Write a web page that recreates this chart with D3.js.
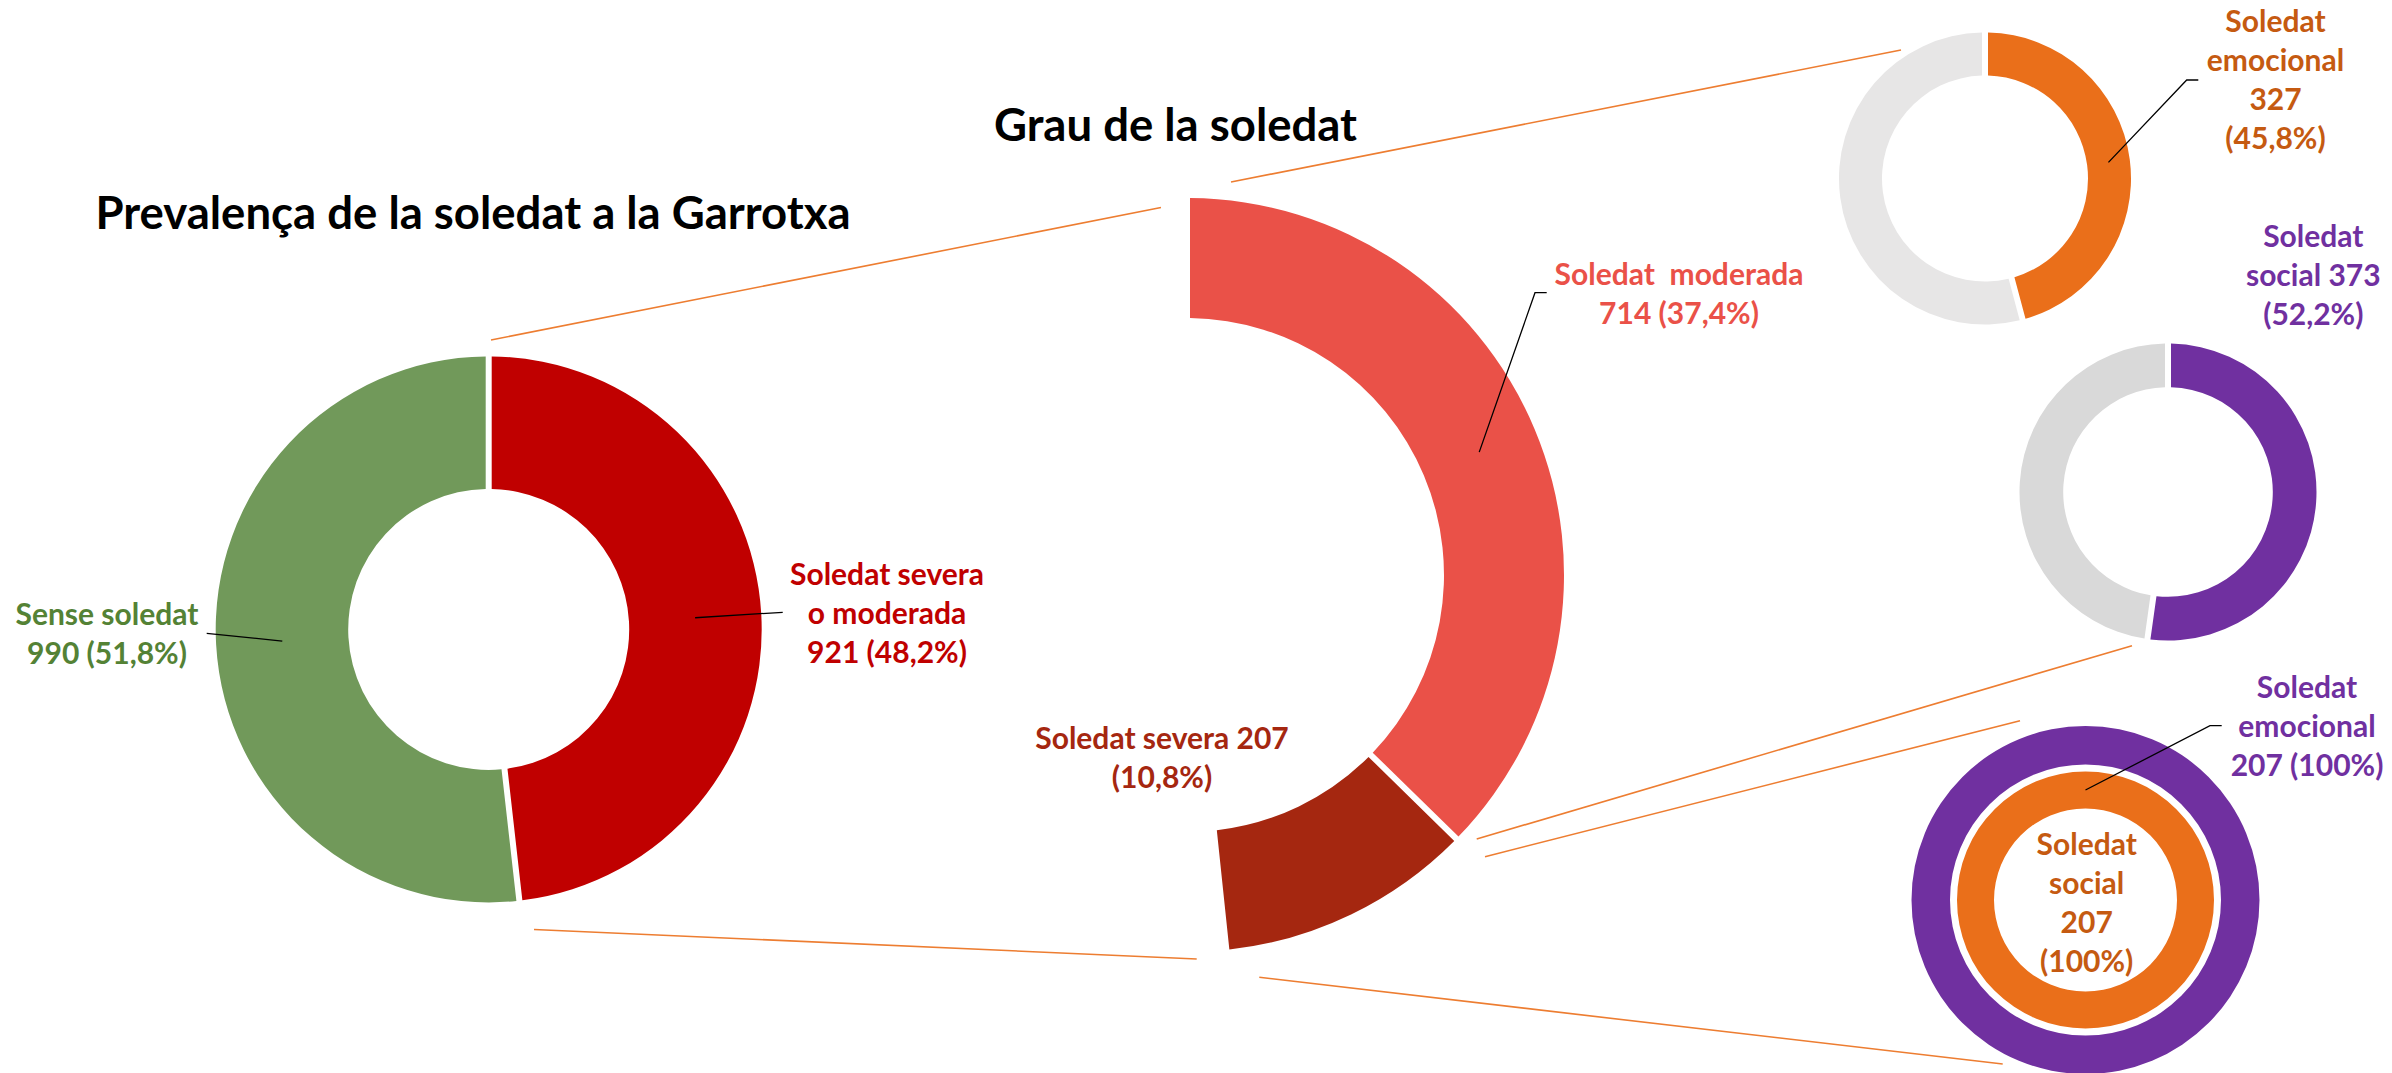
<!DOCTYPE html>
<html>
<head>
<meta charset="utf-8">
<script src="https://cdn.jsdelivr.net/npm/d3@7"></script>
<style>
  body { margin: 0; background: #fff; }
  text { font-family: "Lato", "Open Sans", sans-serif; font-weight: bold; white-space: pre; }
</style>
</head>
<body>
<div id="chart"></div>
<script>
// Prevalença
const prevalenceCategories = ["Soledat severa o moderada", "Sense soledat"];
const prevalenceValues = [921, 990];

// Grau de la soledat (the last one is the hidden part)
const grauCategories = ["Soledat moderada", "Soledat severa", "Sense soledat"];
const grauValues = [714, 207, 990];

// Tipus dins de la soledat moderada (total 714)
const moderadaTypes = ["Soledat emocional", "Soledat social"];
const moderadaTypeValues = [327, 373];

// Tipus dins de la soledat severa (total 207)
const severaTypes = ["Soledat emocional", "Soledat social"];
const severaTypeValues = [207, 207];

const W = 2392, H = 1073;
const GAP = 6;
const LABEL_SIZE = 30, TITLE_SIZE = 45.5, LINE = 39;

const pct = p => p >= 0.9995 ? "100%" : d3.format(".1f")(p * 100).replace(".", ",") + "%";

const svg = d3.select("#chart")
    .append("svg")
    .attr("width", W)
    .attr("height", H);

svg.append("rect").attr("width", W).attr("height", H).attr("fill", "#fff");

// orange connector lines between the charts
const connectors = [
    [[491, 340], [1161, 207.5]],
    [[534, 929.5], [1196.7, 959]],
    [[1231, 182], [1901, 50]],
    [[1259.3, 977.3], [2002.7, 1064]],
    [[1476.7, 839], [2132, 645.7]],
    [[1485, 856.7], [2020, 720.7]]
];
svg.selectAll(".conn")
    .data(connectors)
    .enter()
    .append("line")
    .attr("x1", d => d[0][0]).attr("y1", d => d[0][1])
    .attr("x2", d => d[1][0]).attr("y2", d => d[1][1])
    .attr("stroke", "#ED7D31")
    .attr("stroke-width", 1.6);

function donut(values, cx, cy, rOut, rIn, colors) {
    const pie = d3.pie().sort(null).padAngle(GAP / rOut);
    const arc = d3.arc().innerRadius(rIn).outerRadius(rOut).padRadius(rOut);
    const arcs = pie(values);
    const g = svg.append("g").attr("transform", `translate(${cx},${cy})`);
    g.selectAll("path")
        .data(arcs)
        .enter()
        .append("path")
        .attr("d", arc)
        .attr("fill", (d, i) => colors[i]);
    return { arcs, arc, cx, cy };
}

function label(lines, x, y, color) {
    const t = svg.append("text")
        .attr("text-anchor", "middle")
        .attr("fill", color)
        .style("font-size", LABEL_SIZE + "px");
    lines.forEach((s, i) => {
        t.append("tspan").attr("x", x).attr("y", y + i * LINE).text(s);
    });
}

function leader(points) {
    svg.append("path")
        .attr("d", d3.line()(points))
        .attr("fill", "none")
        .attr("stroke", "#000")
        .attr("stroke-width", 1.3);
}

function centroidOf(d, info) {
    const c = info.arc.centroid(d);
    return [info.cx + c[0], info.cy + c[1]];
}

// --- Prevalença de la soledat a la Garrotxa
const prevTotal = d3.sum(prevalenceValues);
const prev = donut(prevalenceValues, 488.7, 629.4, 273, 140.5, ["#C00000", "#71995A"]);

svg.append("text")
    .attr("x", 473).attr("y", 229)
    .attr("text-anchor", "middle")
    .style("font-size", TITLE_SIZE + "px")
    .attr("fill", "#000")
    .text("Prevalença de la soledat a la Garrotxa");

label(["Soledat severa", "o moderada", `${prevalenceValues[0]} (${pct(prevalenceValues[0] / prevTotal)})`],
    887, 585, "#C00000");
leader([[782.7, 612.3], centroidOf(prev.arcs[0], prev)]);

label(["Sense soledat", `${prevalenceValues[1]} (${pct(prevalenceValues[1] / prevTotal)})`],
    107, 624.5, "#548235");
leader([[206.7, 633.3], centroidOf(prev.arcs[1], prev)]);

// --- Grau de la soledat
const grauTotal = d3.sum(grauValues);
const grau = donut(grauValues, 1187, 575, 377, 257, ["#EA5148", "#A52710", "none"]);

svg.append("text")
    .attr("x", 1175.5).attr("y", 141)
    .attr("text-anchor", "middle")
    .style("font-size", TITLE_SIZE + "px")
    .attr("fill", "#000")
    .text("Grau de la soledat");

label(["Soledat  moderada", `${grauValues[0]} (${pct(grauValues[0] / grauTotal)})`],
    1679, 285, "#EA5148");
leader([[1546.7, 292.7], [1535, 292.7], centroidOf(grau.arcs[0], grau)]);

label([`Soledat severa ${grauValues[1]}`, `(${pct(grauValues[1] / grauTotal)})`],
    1162, 749, "#A52710");

// --- Tipus dins la soledat moderada
const emo = donut([moderadaTypeValues[0], grauValues[0] - moderadaTypeValues[0]],
    1985, 178.5, 146, 103, ["#EA6F1A", "#E7E6E6"]);
label(["Soledat", "emocional", `${moderadaTypeValues[0]}`, `(${pct(moderadaTypeValues[0] / grauValues[0])})`],
    2275.5, 31.7, "#C55A11");
leader([[2198.3, 80], [2186.7, 80], centroidOf(emo.arcs[0], emo)]);

donut([moderadaTypeValues[1], grauValues[0] - moderadaTypeValues[1]],
    2168, 492, 148.5, 104.8, ["#7030A0", "#D9D9D9"]);
label(["Soledat", `social ${moderadaTypeValues[1]}`, `(${pct(moderadaTypeValues[1] / grauValues[0])})`],
    2313.3, 246.7, "#7030A0");

// --- Tipus dins la soledat severa (two rings)
donut([severaTypeValues[0]], 2085.5, 900, 174, 135.5, ["#7030A0"]);
donut([severaTypeValues[1]], 2085.5, 900, 128.5, 91.5, ["#EA6F1A"]);

label(["Soledat", "emocional", `${severaTypeValues[0]} (${pct(severaTypeValues[0] / grauValues[1])})`],
    2307, 698, "#7030A0");
leader([[2221.7, 725.7], [2210, 725.7], [2085.5, 900 - 110]]);

label(["Soledat", "social", `${severaTypeValues[1]}`, `(${pct(severaTypeValues[1] / grauValues[1])})`],
    2086.7, 854.7, "#C55A11");
</script>
</body>
</html>
